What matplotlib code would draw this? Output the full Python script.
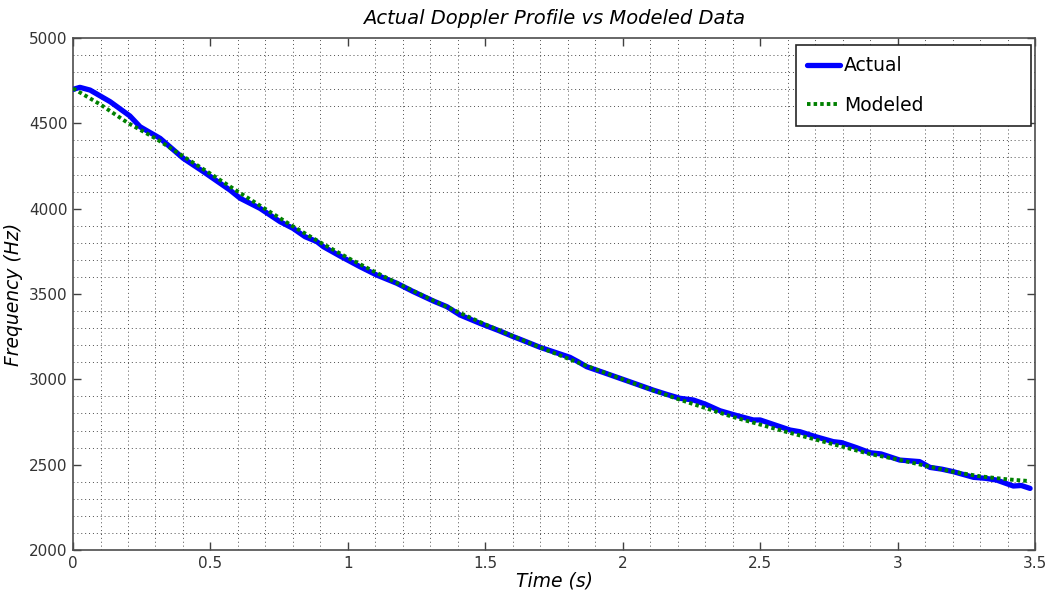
import numpy as np
import matplotlib.pyplot as plt
from matplotlib.ticker import MultipleLocator, FormatStrFormatter

# Actual doppler profile
t_actual = [0.0, 0.025, 0.062, 0.135, 0.207, 0.244, 0.317, 0.401, 0.474, 0.571,
            0.608, 0.68, 0.753, 0.80, 0.844, 0.887, 0.911, 0.971, 1.044, 1.105,
            1.178, 1.238, 1.311, 1.36, 1.408, 1.481, 1.55, 1.602, 1.626, 1.699,
            1.76, 1.808, 1.838, 1.869, 1.93, 1.99, 2.05, 2.111, 2.16, 2.208,
            2.257, 2.30, 2.354, 2.41, 2.475, 2.50, 2.572, 2.609, 2.645, 2.70,
            2.766, 2.797, 2.85, 2.90, 2.94, 3.008, 3.08, 3.118, 3.16, 3.203,
            3.276, 3.32, 3.36, 3.421, 3.45, 3.482]
f_actual = [4699, 4711, 4695, 4627, 4543, 4480, 4412, 4295, 4217, 4109,
            4061, 4002, 3924, 3885, 3836, 3807, 3777, 3723, 3660, 3611,
            3563, 3514, 3459, 3426, 3377, 3328, 3285, 3250, 3235, 3188,
            3155, 3129, 3103, 3074, 3040, 3006, 2972, 2937, 2912, 2889,
            2879, 2855, 2816, 2790, 2762, 2762, 2723, 2703, 2693, 2665,
            2635, 2629, 2600, 2570, 2563, 2527, 2518, 2484, 2474, 2459,
            2426, 2420, 2410, 2375, 2378, 2361]

# Modeled profile
t_model = [0.0, 0.1, 0.2, 0.3, 0.4, 0.5, 0.6, 0.7, 0.8, 0.9, 1.0, 1.1, 1.2,
           1.3, 1.4, 1.5, 1.6, 1.7, 1.8, 1.9, 2.0, 2.1, 2.2, 2.3, 2.4, 2.5,
           2.6, 2.7, 2.8, 2.9, 3.0, 3.1, 3.2, 3.3, 3.4, 3.48]
f_model = [4705, 4610, 4502, 4412, 4308, 4205, 4100, 3998, 3897, 3802, 3712,
           3628, 3548, 3470, 3395, 3322, 3254, 3187, 3122, 3060, 3000, 2942,
           2885, 2832, 2780, 2735, 2690, 2648, 2605, 2562, 2531, 2494, 2459,
           2432, 2414, 2404]

fig = plt.figure(figsize=(10.54, 5.97), dpi=100)
ax = fig.add_axes([0.0693, 0.0787, 0.9127, 0.8576])

ax.plot(t_actual, f_actual, color='#0000ff', linewidth=3.8, label='Actual',
        solid_joinstyle='round', solid_capstyle='round', zorder=3)
ax.plot(t_model, f_model, color='#008000', linewidth=2.8, dashes=(0.9, 0.8),
        label='Modeled', zorder=4)

ax.set_xlim(0, 3.5)
ax.set_ylim(2000, 5000)
ax.xaxis.set_major_locator(MultipleLocator(0.5))
ax.xaxis.set_minor_locator(MultipleLocator(0.1))
ax.yaxis.set_major_locator(MultipleLocator(500))
ax.yaxis.set_minor_locator(MultipleLocator(100))
ax.xaxis.set_major_formatter(FormatStrFormatter('%g'))

ax.tick_params(which='major', direction='in', length=6, width=1, color='0.25',
               top=True, right=True, labelsize=11, labelcolor='#333333', pad=4)
ax.tick_params(which='minor', length=0)
ax.grid(True, which='minor', color='0.3', linestyle=(0, (1, 3)), linewidth=0.7)
ax.grid(False, which='major')
for s in ax.spines.values():
    s.set_color('0.3')
    s.set_linewidth(1.2)

ax.set_title('Actual Doppler Profile vs Modeled Data', style='italic', fontsize=14, pad=10)
ax.set_xlabel('Time (s)', style='italic', fontsize=13.5, labelpad=1)
ax.set_ylabel('Frequency (Hz)', style='italic', fontsize=13.5, labelpad=4)

leg = ax.legend(loc='upper left', bbox_to_anchor=(0.7516, 0.836, 0.2442, 0.1503),
                mode='expand', fontsize=13.5, fancybox=False, framealpha=1,
                edgecolor='0.15', borderpad=0.6, labelspacing=1.1, handlelength=1.75,
                handletextpad=0.2, borderaxespad=0)
leg.get_frame().set_linewidth(1.2)

fig.savefig('out.png', dpi=100)
